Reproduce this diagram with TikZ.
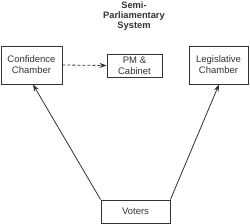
\documentclass[tikz,border=0pt]{standalone}
\usepackage{fontspec}
\setmainfont{Liberation Sans}
\usetikzlibrary{arrows.meta}
\definecolor{ln}{HTML}{333333}
\begin{document}
\begin{tikzpicture}[x=1pt,y=-1pt,
  box/.style={draw=ln,line width=0.9pt,fill=white,align=center,inner sep=0pt,text=ln,
    font=\fontsize{9.5}{10.8}\selectfont},
  arr/.style={draw=ln,line width=0.8pt,-{Stealth[length=7pt,width=5pt]}}]
\useasboundingbox (0,0) rectangle (250,224);
\node[font=\bfseries\fontsize{9.3}{10.4}\selectfont,align=center,text=ln] (title) at (134,16) {Semi-\\Parliamentary\\System};
\node[box,minimum width=61pt,minimum height=38pt] (conf) at (31.5,65) {Confidence\\Chamber};
\node[box,minimum width=55pt,minimum height=23pt] (pm) at (134.5,65.5) {PM \&\\Cabinet};
\node[box,minimum width=59pt,minimum height=38pt] (leg) at (218.5,65) {Legislative\\Chamber};
\node[box,minimum width=69pt,minimum height=23pt] (vot) at (135.5,211.5) {Voters};
\draw[arr,dash pattern=on 3pt off 2pt] (conf.east) -- (pm.west);
\draw[arr] (vot.north west) -- ([xshift=1.5pt]conf.south);
\draw[arr] (vot.north east) -- ([xshift=0.5pt]leg.south);
\end{tikzpicture}
\end{document}
